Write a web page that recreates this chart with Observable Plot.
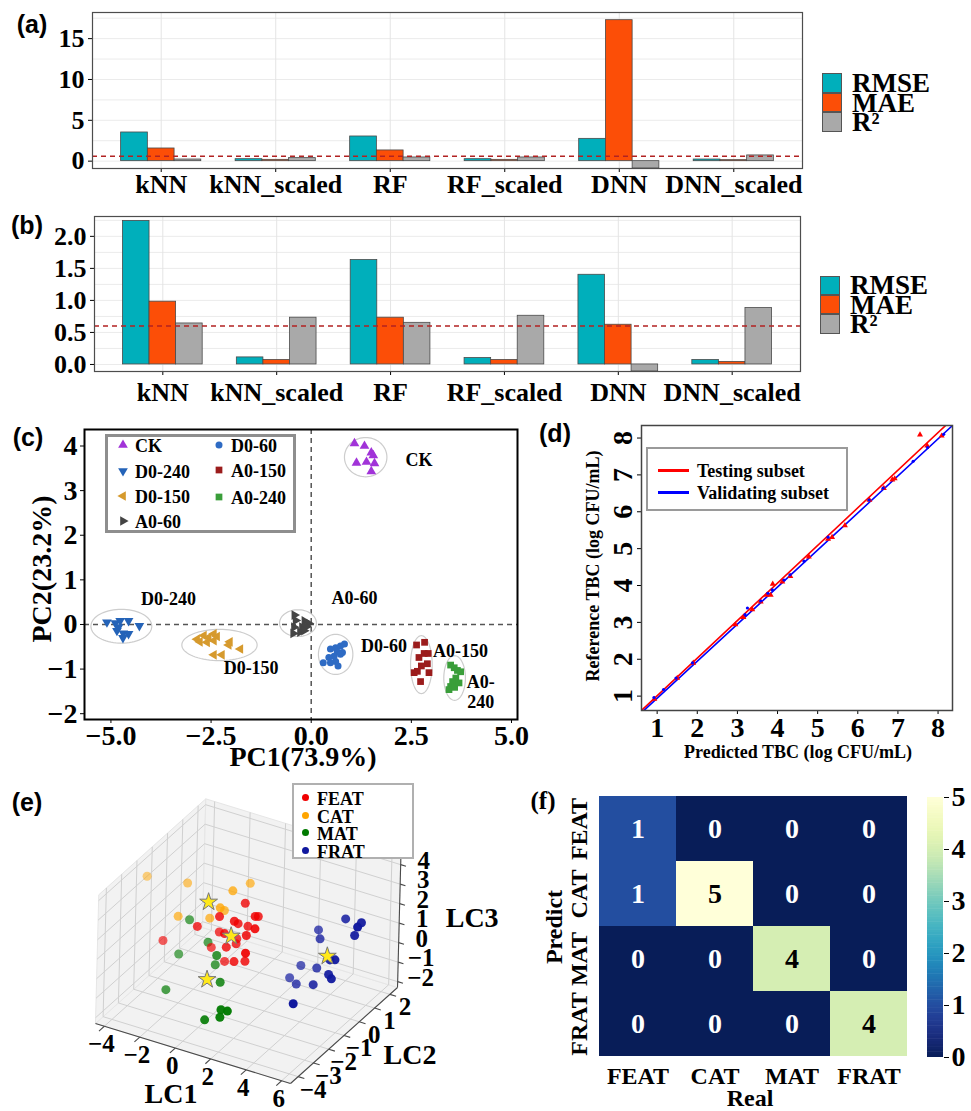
<!DOCTYPE html>
<html><head><meta charset="utf-8">
<script src="https://cdn.jsdelivr.net/npm/d3@7"></script>
<script src="https://cdn.jsdelivr.net/npm/@observablehq/plot@0.6"></script>
<style>
body{margin:0;background:#fff;}
#root{position:relative;width:971px;height:1111px;overflow:hidden;background:#fff;}
</style></head><body><div id="root"></div>
<script>
// ---------------- DATA ----------------
// (a) and (b) model metrics
const models = ["kNN","kNN_scaled","RF","RF_scaled","DNN","DNN_scaled"];
const metrics = ["RMSE","MAE","R²"];
const metricColors = ["#00AFBB","#FC4E07","#A9A9A9"];
const aRMSE = [3.51, 0.24, 3.02, 0.24, 2.73, 0.20];
const aMAE  = [1.55, 0.16, 1.31, 0.16, 17.26, 0.12];
const aR2   = [0.20, 0.37, 0.45, 0.45, -0.90, 0.70];
const bRMSE = [2.24, 0.11, 1.63, 0.10, 1.40, 0.07];
const bMAE  = [0.98, 0.07, 0.73, 0.07, 0.62, 0.04];
const bR2   = [0.64, 0.73, 0.65, 0.76, -0.11, 0.88];
const r2Threshold = 0.6;

// (c) PCA scores
const pcaGroups = ["CK","D0-240","D0-150","A0-60","D0-60","A0-150","A0-240"];
const pcaColors = ["#A133D8","#2463B8","#D69A2D","#444444","#2E6BC4","#9B1C1C","#3A9E3A"];
const ckPC1 = [1.08,1.33,1.50,1.55,1.13,1.38,1.58,1.50];
const ckPC2 = [4.06,4.00,3.85,3.79,3.62,3.64,3.61,3.43];
const d0240PC1 = [-5.10,-4.89,-4.77,-4.56,-4.29,-4.81,-4.85,-4.69,-4.56,-4.70];
const d0240PC2 = [0.05,0.03,0.08,0.08,-0.03,-0.06,-0.14,-0.20,-0.21,-0.30];
const d0150PC1 = [-2.85,-2.68,-2.56,-2.43,-2.35,-2.78,-2.60,-2.43,-2.03,-2.06,-1.77,-2.43,-2.23];
const d0150PC2 = [-0.33,-0.25,-0.29,-0.21,-0.27,-0.39,-0.40,-0.36,-0.39,-0.46,-0.55,-0.68,-0.68];
const a060PC1 = [-0.42,-0.39,-0.17,-0.06,-0.43,-0.23,-0.12,-0.45,-0.28,-0.18];
const a060PC2 = [0.21,0.09,0.08,0.02,-0.06,-0.06,-0.05,-0.20,-0.17,-0.14];
const d060PC1 = [0.48,0.61,0.73,0.83,0.65,0.78,0.57,0.44,0.30,0.61,0.67,0.48,0.73];
const d060PC2 = [-0.55,-0.52,-0.48,-0.44,-0.61,-0.63,-0.71,-0.74,-0.86,-0.83,-0.93,-0.86,-0.67];
const a0150PC1 = [2.63,2.83,2.69,2.82,2.92,2.65,2.94,2.73,2.57,2.90,2.75];
const a0150PC2 = [-0.46,-0.40,-0.74,-0.65,-0.65,-1.05,-1.08,-1.28,-1.08,-0.88,-0.93];
const a0240PC1 = [3.48,3.57,3.65,3.73,3.61,3.53,3.48,3.44,3.58,3.69];
const a0240PC2 = [-0.91,-0.97,-1.03,-1.06,-1.20,-1.28,-1.39,-1.46,-1.41,-1.31];
const ellCX = [1.36,-4.74,-2.29,-0.33,0.61,2.75,3.58];
const ellCY = [3.75,-0.04,-0.46,0.03,-0.67,-0.90,-1.20];
const ellRX = [0.53,0.76,0.94,0.46,0.43,0.27,0.27];
const ellRY = [0.44,0.38,0.35,0.30,0.45,0.65,0.50];
const lblText = ["CK","D0-240","D0-150","A0-60","D0-60","A0-150","A0-\n240"];
const lblPC1 = [2.69,-3.56,-1.50,1.08,1.82,3.73,4.23];
const lblPC2 = [3.70,0.59,-0.97,0.60,-0.46,-0.57,-1.50];

// (d) predicted vs reference TBC
const testPred = [0.93,1.50,1.90,2.95,3.15,3.37,3.58,3.73,3.83,3.88,4.12,4.32,4.78,5.26,5.36,5.68,6.29,6.65,6.86,6.92,7.55,7.73,8.09];
const testRef  = [0.92,1.49,1.90,2.94,3.14,3.35,3.56,3.74,3.74,4.04,4.10,4.25,4.78,5.26,5.31,5.63,6.32,6.64,6.87,6.90,8.09,7.79,8.06];
const valPred  = [0.92,1.16,1.47,1.88,3.19,3.25,3.58,3.76,3.87,4.16,4.31,4.66,5.26,6.28,6.63,7.38,7.74,8.14];
const valRef   = [0.96,1.18,1.49,1.90,3.21,3.39,3.58,3.79,3.88,4.15,4.29,4.66,5.31,6.32,6.64,7.37,7.74,8.10];
const fitNames = ["Testing subset","Validating subset"];
const fitColors = ["#FF0000","#0000FF"];
const fitSlope = [1.02, 1.005];
const fitIntercept = [-0.012, -0.063];

// (e) LDA 3D scores
const ldaGroups = ["FEAT","CAT","MAT","FRAT"];
const ldaColors = ["#F00000","#FFA500","#007A00","#10189E"];
const featLC1 = [0.87,0.20,1.61,1.45,0.87,0.75,-0.86,0.97,1.95,-0.46,0.42,0.28,1.31,-2.93,-0.97,0.37,0.50,1.79,-0.29,0.74,1.10];
const featLC2 = [-1.1,-2.0,-1.3,-0.9,-1.8,-1.4,-2.2,-1.0,-1.7,-1.2,-1.9,-0.9,-1.5,-2.0,-1.1,-1.7,-1.2,-2.1,-1.0,-1.6,-1.3];
const featLC3 = [2.98,2.74,2.65,2.32,2.55,2.11,2.08,1.75,2.39,1.20,1.86,0.85,1.73,0.64,0.20,1.01,0.87,1.38,-0.40,0.30,0.21];
const catLC1 = [-4.33,-2.47,0.20,0.24,0.06,-0.29,-2.20,-0.93];
const catLC2 = [-1.5,-1.0,0.0,-1.2,-1.8,-1.1,-1.9,-1.3];
const catLC3 = [3.19,3.01,3.04,3.51,3.01,2.28,2.01,1.85];
const matLC1 = [-1.89,-1.16,-2.45,-0.07,-0.64,0.33,-2.28,1.25,1.61,1.20,0.35];
const matLC2 = [-1.5,-1.1,-1.5,-1.8,-1.2,-2.0,-2.5,-3.0,-3.0,-3.0,-3.0];
const matLC3 = [1.64,0.41,-0.27,0.53,-0.53,-0.59,-1.35,-1.04,-1.01,-1.44,-1.81];
const fratLC1 = [4.67,5.81,6.02,5.53,3.00,3.35,4.60,5.05,2.23,3.29,4.63,4.96,1.87,2.50,3.70,4.03];
const fratLC2 = [1.1,0.8,0.3,0.7,1.3,1.0,0.2,0.0,1.1,0.9,0.1,-0.1,0.8,0.5,0.2,-1.5];
const fratLC3 = [1.69,2.02,2.21,1.36,0.52,0.37,0.20,0.47,-1.38,-1.07,-0.47,-0.46,-1.90,-1.83,-1.32,-1.01];
const centroidLC1 = [0.46,-0.85,0.01,4.20];
const centroidLC2 = [-1.5,-1.5,-2.5,0.5];
const centroidLC3 = [1.46,2.84,-0.19,0.07];
const lc1Bounds = [-4.5, 6.5], lc2Bounds = [-4.5, 2.5], lc3Bounds = [-2.3, 4.3];
const lc1Ticks = [-4,-2,0,2,4,6], lc2Ticks = [-4,-3,-2,-1,0,1,2], lc3Ticks = [-2,-1,0,1,2,3,4];

// (f) confusion matrix (rows = Predict, cols = Real)
const classNames = ["FEAT","CAT","MAT","FRAT"];
const cmFEAT = [1,0,0,0];
const cmCAT  = [1,5,0,0];
const cmMAT  = [0,0,4,0];
const cmFRAT = [0,0,0,4];

// ---------------- HELPERS ----------------
const root = document.getElementById("root");
const serif = '"Liberation Serif", "Times New Roman", serif';
const sans = '"Liberation Sans", Arial, sans-serif';
function place(svg, left, top) {
  Object.assign(svg.style, {position:"absolute", left:left+"px", top:top+"px", maxWidth:"none", overflow:"visible", background:"transparent"});
  root.appendChild(svg);
}
function st(size) { return {fontFamily: serif, fontWeight: "bold", fontSize: size+"px", overflow: "visible", background: "transparent", color: "#000"}; }
function txt(s, x, y, o = {}) {
  const d = document.createElement("div");
  d.textContent = s;
  const tr = o.left ? "translate(0,-50%)" : "translate(-50%,-50%)";
  Object.assign(d.style, {position:"absolute", left:x+"px", top:y+"px",
    transform: tr + (o.rot ? ` rotate(${o.rot}deg)` : ""),
    fontSize:(o.size||18)+"px", fontFamily: o.sans ? sans : serif, fontWeight:"bold",
    whiteSpace:"nowrap", lineHeight: o.lh || "1", color: o.color || "#000"});
  root.appendChild(d);
  return d;
}
function box(x, y, w, h, css) {
  const d = document.createElement("div");
  Object.assign(d.style, {position:"absolute", left:x+"px", top:y+"px", width:w+"px", height:h+"px", boxSizing:"border-box"}, css);
  root.appendChild(d);
  return d;
}
// custom triangle symbols
function triSym(angle) {
  return {draw(ctx, size) {
    const r = Math.sqrt(size / 1.299);
    for (let k = 0; k < 3; k++) {
      const a = angle + k * 2 * Math.PI / 3;
      const px = r * Math.cos(a), py = r * Math.sin(a);
      if (k === 0) ctx.moveTo(px, py); else ctx.lineTo(px, py);
    }
    ctx.closePath();
  }};
}
const triUp = triSym(-Math.PI/2), triDown = triSym(Math.PI/2), triLeft = triSym(Math.PI), triRight = triSym(0);

// ---------------- (a) & (b) BAR PANELS ----------------
function barPanel(rmse, mae, r2, o) {
  const w = 0.7 / 3;
  const series = [rmse, mae, r2];
  const rows = [];
  models.forEach((m, i) => metrics.forEach((k, j) => rows.push({
    model: m, metric: k, value: series[j][i],
    x1: i + 1 - 0.35 + j * w, x2: i + 1 - 0.35 + (j + 1) * w
  })));
  return Plot.plot({
    width: o.width, height: o.height,
    marginLeft: o.ml, marginRight: o.mr, marginTop: o.mt, marginBottom: o.mb,
    x: {domain: [0.4, 6.6], ticks: d3.range(1, 7), tickFormat: i => models[i - 1], tickSize: 4, tickPadding: o.xpad, label: null},
    y: {domain: o.ydomain, ticks: o.yticks, tickFormat: o.yfmt, tickSize: 4, tickPadding: 4, label: null},
    color: {domain: metrics, range: metricColors},
    style: st(26),
    marks: [
      Plot.ruleY(o.grid, {stroke: "#ebebeb", strokeWidth: 1}),
      Plot.ruleX(d3.range(1, 7), {stroke: "#e4e4e4", strokeWidth: 1}),
      Plot.rect(rows, {x1: "x1", x2: "x2", y1: 0, y2: "value", fill: "metric", stroke: "#4a4a4a", strokeWidth: 0.8}),
      Plot.ruleY([r2Threshold], {stroke: "#B22222", strokeDasharray: "5,4", strokeWidth: 1.6}),
      Plot.frame({stroke: "#4d4d4d", strokeWidth: 1.2})
    ]
  });
}
place(barPanel(aRMSE, aMAE, aR2, {width: 820, height: 200, ml: 92, mr: 18, mt: 12, mb: 32, xpad: 2,
  ydomain: [-0.9, 18.2], yticks: [0,5,10,15], yfmt: d3.format("d"), grid: d3.range(0, 18, 2.5)}), 0, 0);
place(barPanel(bRMSE, bMAE, bR2, {width: 820, height: 210, ml: 94, mr: 20, mt: 16, mb: 39, xpad: 7,
  ydomain: [-0.11, 2.31], yticks: [0,0.5,1,1.5,2], yfmt: d3.format(".1f"), grid: d3.range(0, 2.3, 0.25)}), 0, 200);

function barLegend(x, y0, step) {
  metrics.forEach((m, j) => {
    box(x, y0 + j * step, 20, step, {background: metricColors[j], border: "1px solid #555"});
    txt(m, x + 30, y0 + j * step + step / 2 + 1, {size: 27, left: true, lh: "0.72"});
  });
}
barLegend(822, 73, 19.7);
barLegend(820, 275.7, 19.3);

// ---------------- (c) PCA ----------------
const pcaSeries = [[ckPC1, ckPC2], [d0240PC1, d0240PC2], [d0150PC1, d0150PC2], [a060PC1, a060PC2],
                   [d060PC1, d060PC2], [a0150PC1, a0150PC2], [a0240PC1, a0240PC2]];
const pcaSymbols = [triUp, triDown, triLeft, triRight, "circle", "square", "square"];
const pcaR = [3.6, 3.6, 3.6, 3.6, 3.5, 3.8, 3.8];
const ellPts = [];
pcaGroups.forEach((g, i) => d3.range(0, 361, 5).forEach(a => {
  const t = a * Math.PI / 180;
  ellPts.push({g, x: ellCX[i] + ellRX[i] * Math.cos(t), y: ellCY[i] + ellRY[i] * Math.sin(t)});
}));
const lblRows = lblText.map((t, i) => ({t, x: lblPC1[i], y: lblPC2[i]}));
const pcaMarks = [
  Plot.ruleX([0], {stroke: "#555", strokeDasharray: "5,4", strokeWidth: 1.5}),
  Plot.ruleY([0], {stroke: "#555", strokeDasharray: "5,4", strokeWidth: 1.5}),
  Plot.line(ellPts, {x: "x", y: "y", z: "g", stroke: "#cdcdcd", strokeWidth: 1.2})
];
pcaSeries.forEach(([xs, ys], i) => {
  pcaMarks.push(Plot.dot(xs.map((v, k) => ({x: v, y: ys[k]})), {x: "x", y: "y", r: pcaR[i], symbol: pcaSymbols[i], fill: pcaColors[i], stroke: "none"}));
});
pcaMarks.push(Plot.text(lblRows, {x: "x", y: "y", text: "t", fontSize: 18, fill: "#000", lineHeight: 1.15}));
pcaMarks.push(Plot.frame({stroke: "#000", strokeWidth: 2}));
place(Plot.plot({
  width: 530, height: 370, marginLeft: 84, marginRight: 13, marginTop: 24, marginBottom: 56,
  x: {domain: [-5.66, 5.15], ticks: [-5, -2.5, 0, 2.5, 5], tickFormat: d3.format(".1f"), tickSize: 4, tickPadding: 2, label: null},
  y: {domain: [-2.13, 4.37], ticks: d3.range(-2, 5), tickFormat: d3.format("d"), tickSize: 4, tickPadding: 3, label: null},
  style: st(28),
  marks: pcaMarks
}), 0, 405);
txt("PC1(73.9%)", 303, 757, {size: 28});
txt("PC2(23.2%)", 42, 569, {size: 28, rot: -90});
// legend (c)
box(105, 434, 191, 99, {border: "3px solid #8e8e8e", background: "#fff"});
const legPos = [[123,445],[123,471],[123,496],[123,521],[219,445],[219,470],[219,497]];
pcaGroups.forEach((g, i) => {
  const [cx, cy] = legPos[i];
  const svg = d3.create("svg").attr("width", 14).attr("height", 14)
    .style("position", "absolute").style("left", (cx - 7) + "px").style("top", (cy - 7) + "px");
  svg.append("path").attr("transform", "translate(7,7)")
    .attr("d", d3.symbol().type(typeof pcaSymbols[i] === "string" ? (pcaSymbols[i] === "circle" ? d3.symbolCircle : d3.symbolSquare) : pcaSymbols[i]).size(Math.PI * pcaR[i] * pcaR[i])())
    .attr("fill", pcaColors[i]);
  root.appendChild(svg.node());
  txt(g, cx + 12, cy + 1, {size: 18, left: true});
});

// ---------------- (d) Predicted vs reference ----------------
const dTicks = d3.range(1, 9);
const fitPts = [];
fitNames.forEach((n, i) => [0.3, 8.7].forEach(x => fitPts.push({n, x, y: fitIntercept[i] + fitSlope[i] * x})));
place(Plot.plot({
  width: 441, height: 370, marginLeft: 111, marginRight: 19, marginTop: 20, marginBottom: 65,
  x: {domain: [0.61, 8.36], ticks: dTicks, tickFormat: d3.format("d"), tickSize: 4, tickPadding: 3, label: null},
  y: {domain: [0.61, 8.34], ticks: dTicks, tickFormat: () => "", tickSize: 4, label: null},
  style: st(28),
  marks: [
    Plot.line(fitPts.filter(d => d.n === fitNames[0]), {x: "x", y: "y", stroke: fitColors[0], strokeWidth: 1.6, clip: true}),
    Plot.line(fitPts.filter(d => d.n === fitNames[1]), {x: "x", y: "y", stroke: fitColors[1], strokeWidth: 1.6, clip: true}),
    Plot.dot(testPred.map((v, k) => ({x: v, y: testRef[k]})), {x: "x", y: "y", symbol: "triangle", r: 2.2, fill: "#F00", stroke: "none"}),
    Plot.dot(valPred.map((v, k) => ({x: v, y: valRef[k]})), {x: "x", y: "y", r: 1.6, fill: "#00F", stroke: "none"}),
    Plot.text(dTicks, {y: d => d, text: d => String(d), frameAnchor: "left", rotate: -90, dx: -18, fontSize: 28, textAnchor: "middle", lineAnchor: "middle"}),
    Plot.frame({stroke: "#444", strokeWidth: 1.5})
  ]
}), 530, 405);
txt("Reference TBC (log CFU/mL)", 593, 566, {size: 18, rot: -90});
txt("Predicted TBC (log CFU/mL)", 798, 752, {size: 18});
box(646, 447, 202, 64, {border: "2px solid #9a9a9a", background: "#fff"});
fitNames.forEach((n, i) => {
  box(658, 469 + i * 22, 31, 3, {background: fitColors[i]});
  txt(n, 697, 471 + i * 22, {size: 18, left: true});
});

// ---------------- (e) 3D LDA ----------------
function proj(x, y, z) { return [244.7 + 17.73 * x + 15.29 * y + 0.5 * z, 171 + 5.45 * x - 13.71 * y - 19.5 * z]; }
const [X0, X1] = lc1Bounds, [Y0, Y1] = lc2Bounds, [Z0, Z1] = lc3Bounds;
const panes = [
  ["floor", [[X0,Y0,Z0],[X1,Y0,Z0],[X1,Y1,Z0],[X0,Y1,Z0]]],
  ["left",  [[X0,Y0,Z0],[X0,Y1,Z0],[X0,Y1,Z1],[X0,Y0,Z1]]],
  ["back",  [[X0,Y1,Z0],[X1,Y1,Z0],[X1,Y1,Z1],[X0,Y1,Z1]]]
];
const paneVerts = panes.flatMap(([id, pts]) => [...pts, pts[0]].map(p => { const [px, py] = proj(...p); return {id, px, py}; }));
const gridSegs = [];
lc1Ticks.forEach(t => gridSegs.push([[t,Y0,Z0],[t,Y1,Z0]], [[t,Y1,Z0],[t,Y1,Z1]]));
lc2Ticks.forEach(t => gridSegs.push([[X0,t,Z0],[X1,t,Z0]], [[X0,t,Z0],[X0,t,Z1]]));
lc3Ticks.forEach(t => gridSegs.push([[X0,Y0,t],[X0,Y1,t]], [[X0,Y1,t],[X1,Y1,t]]));
const axisSegs = [[[X0,Y0,Z0],[X1,Y0,Z0]], [[X1,Y0,Z0],[X1,Y1,Z0]], [[X1,Y1,Z0],[X1,Y1,Z1]]];
lc1Ticks.forEach(t => axisSegs.push([[t,Y0,Z0],[t,Y0-0.35,Z0]]));
lc2Ticks.forEach(t => axisSegs.push([[X1,t,Z0],[X1+0.35,t,Z0]]));
lc3Ticks.forEach(t => axisSegs.push([[X1,Y1,t],[X1+0.3,Y1,t]]));
const segRows = segs => segs.map(([a, b]) => { const p = proj(...a), q = proj(...b); return {x1: p[0], y1: p[1], x2: q[0], y2: q[1]}; });
const ldaSeries = [[featLC1, featLC2, featLC3], [catLC1, catLC2, catLC3], [matLC1, matLC2, matLC3], [fratLC1, fratLC2, fratLC3]];
let ldaPts = [];
ldaSeries.forEach(([a, b, c], i) => a.forEach((v, k) => {
  const [px, py] = proj(v, b[k], c[k]);
  const near = 0.55 * (v - X0) / (X1 - X0) + 0.45 * (Y1 - b[k]) / (Y1 - Y0);
  ldaPts.push({px, py, col: ldaColors[i], near});
}));
const nExt = d3.extent(ldaPts, d => d.near);
ldaPts.forEach(d => d.op = 0.5 + 0.5 * (d.near - nExt[0]) / (nExt[1] - nExt[0]));
ldaPts.sort((a, b) => a.near - b.near);
const starPts = centroidLC1.map((v, i) => { const [px, py] = proj(v, centroidLC2[i], centroidLC3[i]); return {px, py}; });
const tickLbl = (ticks, f) => ticks.map(t => { const [px, py] = f(t); return {px, py, t: d3.format("d")(t)}; });
const axTitles = [
  {t: "LC1", p: proj(1, Y0, Z0), ox: -22, oy: 41},
  {t: "LC2", p: proj(X1, -1, Z0), ox: 66, oy: 20},
  {t: "LC3", p: proj(X1, Y1, 1), ox: 73, oy: -5}
];
place(Plot.plot({
  width: 480, height: 341, margin: 0,
  x: {domain: [0, 480], range: [0, 480], axis: null},
  y: {domain: [0, 341], range: [0, 341], axis: null},
  color: {type: "identity"}, opacity: {type: "identity"},
  style: st(26),
  marks: [
    Plot.line(paneVerts, {x: "px", y: "py", z: "id", fill: "#f2f2f2", stroke: "#e6e6e6", strokeWidth: 1}),
    Plot.link(segRows(gridSegs), {x1: "x1", y1: "y1", x2: "x2", y2: "y2", stroke: "#d0d0d0", strokeWidth: 1}),
    Plot.link(segRows(axisSegs), {x1: "x1", y1: "y1", x2: "x2", y2: "y2", stroke: "#4a4a4a", strokeWidth: 1.1}),
    Plot.dot(ldaPts, {x: "px", y: "py", r: 4.5, fill: "col", fillOpacity: "op", stroke: "none"}),
    Plot.dot(starPts, {x: "px", y: "py", symbol: "star", r: 5.6, fill: "#FFE81A", stroke: "#777", strokeWidth: 1}),
    Plot.text(tickLbl(lc1Ticks, t => proj(t, Y0, Z0)), {x: "px", y: "py", text: "t", dx: -3, dy: 18, fontSize: 25}),
    Plot.text(tickLbl(lc2Ticks, t => proj(X1, t, Z0)), {x: "px", y: "py", text: "t", dx: 15, dy: 13, fontSize: 25}),
    Plot.text(tickLbl(lc3Ticks, t => proj(X1, Y1, t)), {x: "px", y: "py", text: "t", dx: 23, dy: -4, fontSize: 25}),
    Plot.text(axTitles, {x: d => d.p[0] + d.ox, y: d => d.p[1] + d.oy, text: "t", fontSize: 28})
  ]
}), 0, 770);
// (e) legend
box(292, 783, 122, 76, {border: "2px solid #b0b0b0", background: "#fff"});
ldaGroups.forEach((g, i) => {
  const cy = 798 + i * 17.5;
  box(302, cy - 4, 7, 7, {background: ldaColors[i], borderRadius: "50%"});
  txt(g, 317, cy + 1, {size: 18, left: true, lh: "0.9"});
});

// ---------------- (f) confusion matrix ----------------
const cmRows = [cmFEAT, cmCAT, cmMAT, cmFRAT];
const cells = [];
cmRows.forEach((row, r) => row.forEach((v, c) => cells.push({pred: classNames[r], real: classNames[c], v})));
const cmColor = {type: "linear", domain: [0, 5], scheme: "ylgnbu", reverse: true};
place(Plot.plot({
  width: 491, height: 341, marginLeft: 118, marginRight: 64, marginTop: 24, marginBottom: 54,
  x: {domain: classNames, padding: 0, tickSize: 0, tickPadding: 9, label: null},
  y: {domain: classNames, padding: 0, axis: null},
  color: cmColor,
  style: st(24),
  marks: [
    Plot.cell(cells, {x: "real", y: "pred", fill: "v", inset: 0}),
    Plot.text(cells.filter(d => d.v < 3), {x: "real", y: "pred", text: d => String(d.v), fill: "#fff", fontSize: 28}),
    Plot.text(cells.filter(d => d.v >= 3), {x: "real", y: "pred", text: d => String(d.v), fill: "#000", fontSize: 28}),
    Plot.text(classNames, {y: d => d, text: d => d, frameAnchor: "left", rotate: -90, dx: -19, fontSize: 24, textAnchor: "middle", lineAnchor: "middle"})
  ]
}), 480, 770);
// colour bar
const rampSteps = d3.range(0, 5, 0.05);
place(Plot.plot({
  width: 51, height: 290, marginLeft: 7, marginRight: 28, marginTop: 12, marginBottom: 18,
  x: {domain: [0, 1], axis: null},
  y: {domain: [0, 5], axis: "right", ticks: d3.range(0, 6), tickFormat: d3.format("d"), tickSize: 5, tickPadding: 3, label: null},
  color: cmColor,
  style: st(28),
  marks: [Plot.rect(rampSteps, {x1: 0, x2: 1, y1: d => d, y2: d => Math.min(5, d + 0.06), fill: d => d + 0.025})]
}), 920, 785);
txt("Predict", 554, 927, {size: 24, rot: -90});
txt("Real", 750, 1098, {size: 24});

// ---------------- panel letters ----------------
txt("(a)", 32, 24, {size: 25, sans: true});
txt("(b)", 27, 225, {size: 25, sans: true});
txt("(c)", 28, 437, {size: 25, sans: true});
txt("(d)", 555, 433, {size: 25, sans: true});
txt("(e)", 27, 802, {size: 25, sans: true});
txt("(f)", 543, 800, {size: 25});
</script></body></html>
